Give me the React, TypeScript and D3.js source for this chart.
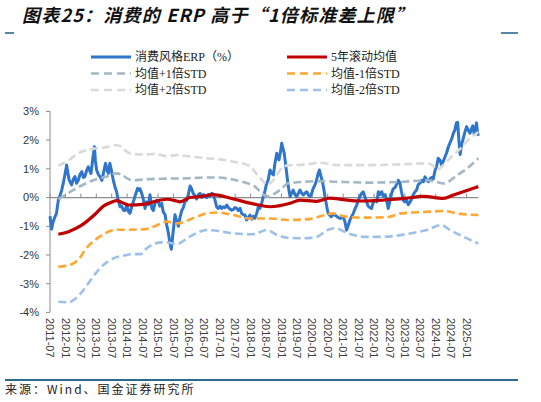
import React from "react";
import * as d3 from "d3";

// ---------- data ----------
const xTickLabels = [
  "2011-07","2012-01","2012-07","2013-01","2013-07","2014-01","2014-07",
  "2015-01","2015-07","2016-01","2016-07","2017-01","2017-07","2018-01",
  "2018-07","2019-01","2019-07","2020-01","2020-07","2021-01","2021-07",
  "2022-01","2022-07","2023-01","2023-07","2024-01","2024-07","2025-01",
];
const yTickValues = [3, 2, 1, 0, -1, -2, -3, -4];

// 消费风格ERP (%), [decimal year, value]
const erp: [number, number][] = [
  [2011.50,-0.65],[2011.55,-1.1],[2011.60,-0.85],[2011.66,-0.67],[2011.71,-0.55],[2011.77,-0.09],[2011.82,0.05],[2011.88,0.26],[2011.93,0.5],[2011.99,0.84],
  [2012.04,1.13],[2012.08,0.85],[2012.12,0.61],[2012.20,0.44],[2012.26,0.65],[2012.31,0.73],[2012.36,0.5],[2012.42,0.61],[2012.47,0.8],[2012.53,0.9],
  [2012.58,0.7],[2012.63,0.73],[2012.69,0.95],[2012.74,1.07],[2012.80,0.9],[2012.83,0.84],[2012.88,1.3],[2012.94,1.77],[2012.97,1.3],[2013.01,0.96],
  [2013.07,0.8],[2013.12,0.73],[2013.18,0.6],[2013.23,0.84],[2013.30,1.19],[2013.35,0.95],[2013.39,0.84],[2013.44,1.19],[2013.49,0.95],[2013.55,0.61],
  [2013.61,0.35],[2013.66,0.2],[2013.71,-0.1],[2013.77,-0.32],[2013.82,-0.3],[2013.88,-0.44],[2013.93,-0.45],[2013.99,-0.26],[2014.04,-0.49],[2014.09,-0.55],
  [2014.15,-0.32],[2014.20,-0.15],[2014.27,0.1],[2014.34,0.32],[2014.40,0.25],[2014.42,0.3],[2014.47,0.15],[2014.52,-0.05],[2014.58,-0.38],[2014.63,-0.15],
  [2014.69,-0.25],[2014.74,0.1],[2014.80,-0.38],[2014.85,-0.45],[2014.90,-0.2],[2014.96,-0.1],[2015.01,-0.15],[2015.06,-0.3],[2015.12,-0.2],[2015.17,-0.5],
  [2015.23,-0.6],[2015.28,-0.95],[2015.33,-1.2],[2015.39,-1.6],[2015.43,-1.8],[2015.46,-1.5],[2015.50,-1.1],[2015.55,-0.6],[2015.60,-0.8],[2015.66,-1.0],
  [2015.71,-0.7],[2015.77,-0.45],[2015.82,-0.35],[2015.87,-0.15],[2015.93,-0.1],[2015.98,0.1],[2016.04,0.4],[2016.09,0.3],[2016.14,0.15],[2016.20,0.05],
  [2016.25,-0.05],[2016.31,0.1],[2016.36,0.15],[2016.42,0.0],[2016.47,0.1],[2016.52,0.03],[2016.58,0.0],[2016.63,0.1],[2016.68,0.05],[2016.74,0.15],
  [2016.79,0.12],[2016.85,-0.1],[2016.90,-0.32],[2016.95,-0.38],[2017.01,-0.3],[2017.06,-0.38],[2017.12,-0.32],[2017.17,-0.35],[2017.23,-0.26],[2017.28,-0.35],
  [2017.33,-0.4],[2017.39,-0.44],[2017.44,-0.42],[2017.49,-0.35],[2017.55,-0.38],[2017.60,-0.45],[2017.66,-0.38],[2017.71,-0.55],[2017.76,-0.6],[2017.82,-0.61],
  [2017.87,-0.78],[2017.93,-0.7],[2017.98,-0.61],[2018.04,-0.75],[2018.09,-0.65],[2018.14,-0.72],[2018.20,-0.55],[2018.25,-0.32],[2018.30,-0.38],[2018.36,-0.2],
  [2018.41,0.03],[2018.47,0.25],[2018.52,0.49],[2018.57,0.61],[2018.63,0.96],[2018.68,0.85],[2018.74,0.79],[2018.79,1.2],[2018.85,1.54],[2018.89,1.35],
  [2018.92,1.31],[2018.97,1.6],[2019.01,1.89],[2019.05,1.7],[2019.09,1.54],[2019.13,1.2],[2019.17,0.84],[2019.22,0.4],[2019.28,0.03],[2019.33,0.15],
  [2019.38,0.26],[2019.44,0.1],[2019.49,0.03],[2019.55,0.15],[2019.60,0.26],[2019.66,0.15],[2019.71,0.09],[2019.76,0.15],[2019.82,0.2],[2019.87,0.1],
  [2019.93,0.03],[2019.98,0.15],[2020.03,0.32],[2020.09,0.45],[2020.14,0.61],[2020.18,0.8],[2020.23,0.96],[2020.28,0.75],[2020.34,0.49],[2020.38,0.25],
  [2020.41,0.03],[2020.45,-0.2],[2020.50,-0.49],[2020.55,-0.6],[2020.61,-0.67],[2020.67,-0.6],[2020.74,-0.61],[2020.82,-0.68],[2020.90,-0.73],[2020.95,-0.7],
  [2021.00,-0.67],[2021.06,-0.85],[2021.11,-1.13],[2021.17,-0.95],[2021.22,-0.78],[2021.28,-0.65],[2021.33,-0.55],[2021.38,-0.4],[2021.44,-0.26],[2021.49,-0.1],
  [2021.55,0.05],[2021.60,0.15],[2021.65,0.2],[2021.71,0.0],[2021.76,-0.15],[2021.81,-0.3],[2021.87,-0.35],[2021.92,-0.38],[2021.98,-0.15],[2022.03,-0.1],
  [2022.09,-0.15],[2022.14,0.2],[2022.19,0.1],[2022.25,0.2],[2022.30,0.05],[2022.36,0.1],[2022.41,-0.1],[2022.46,-0.38],[2022.52,-0.1],[2022.57,0.15],
  [2022.62,0.3],[2022.68,0.35],[2022.73,0.45],[2022.79,0.6],[2022.84,0.5],[2022.89,0.2],[2022.95,-0.1],[2023.00,-0.15],[2023.06,-0.1],[2023.11,-0.25],
  [2023.17,-0.15],[2023.22,-0.05],[2023.27,0.1],[2023.33,0.2],[2023.38,0.26],[2023.43,0.45],[2023.49,0.5],[2023.54,0.6],[2023.60,0.55],[2023.65,0.72],
  [2023.71,0.6],[2023.76,0.55],[2023.81,0.65],[2023.87,0.7],[2023.92,0.65],[2023.98,0.96],[2024.03,1.1],[2024.08,1.37],[2024.14,1.3],[2024.19,1.13],
  [2024.24,1.25],[2024.30,1.42],[2024.35,1.55],[2024.41,1.77],[2024.46,1.9],[2024.52,2.05],[2024.57,2.24],[2024.62,2.35],[2024.67,2.6],[2024.71,2.62],
  [2024.75,2.0],[2024.79,1.5],[2024.83,1.8],[2024.89,2.05],[2024.95,2.3],[2025.00,2.47],[2025.05,2.35],[2025.11,2.24],[2025.16,2.4],[2025.20,2.5],
  [2025.25,2.2],[2025.29,2.4],[2025.32,2.6],[2025.35,2.3],[2025.38,2.15],
];

// 5年滚动均值
const mean5y: [number, number][] = [
  [2011.77,-1.28],[2012.1,-1.19],[2012.5,-0.98],[2012.96,-0.58],[2013.23,-0.3],[2013.45,-0.18],[2013.66,-0.11],[2013.85,-0.18],
  [2014.04,-0.26],[2014.58,-0.23],[2014.85,-0.15],[2015.28,-0.06],[2015.6,-0.12],[2015.71,-0.15],[2016.04,0.0],[2016.36,0.03],
  [2016.79,0.1],[2017.44,-0.05],[2018.09,-0.22],[2018.63,-0.32],[2019.28,-0.2],[2019.6,-0.09],[2020.14,-0.13],[2020.57,-0.02],
  [2021.0,-0.07],[2021.55,-0.12],[2022.09,-0.1],[2022.7,-0.06],[2023.0,-0.03],[2023.6,0.04],[2024.24,-0.03],[2024.6,0.1],[2025.38,0.38],
];

// 均值+1倍STD
const plus1Std: [number, number][] = [
  [2011.77,-0.06],[2012.04,0.12],[2012.4,0.35],[2012.9,0.6],[2013.3,0.72],[2013.66,0.84],[2013.85,0.78],[2014.0,0.67],
  [2014.2,0.6],[2014.5,0.63],[2015.3,0.66],[2016.0,0.67],[2016.6,0.7],[2016.9,0.7],[2017.5,0.61],[2017.9,0.5],
  [2018.1,0.42],[2018.3,0.22],[2018.52,0.04],[2018.75,0.12],[2019.0,0.3],[2019.2,0.49],[2020.25,0.57],[2020.79,0.55],
  [2021.87,0.52],[2022.95,0.55],[2023.7,0.6],[2024.0,0.55],[2024.26,0.49],[2024.7,0.78],[2025.0,1.0],[2025.38,1.37],
];

// 均值-1倍STD
const minus1Std: [number, number][] = [
  [2011.77,-2.41],[2012.0,-2.38],[2012.26,-2.29],[2012.5,-2.05],[2012.63,-1.83],[2012.96,-1.48],[2013.23,-1.28],[2013.5,-1.15],
  [2013.71,-1.12],[2014.0,-1.12],[2014.58,-1.1],[2014.85,-1.02],[2015.28,-0.84],[2015.6,-0.9],[2016.25,-0.67],[2016.58,-0.55],
  [2016.9,-0.52],[2017.44,-0.61],[2017.98,-0.73],[2018.63,-0.73],[2019.2,-0.78],[2019.9,-0.75],[2020.4,-0.61],[2020.67,-0.55],
  [2021.0,-0.65],[2021.55,-0.7],[2022.4,-0.69],[2022.9,-0.55],[2023.7,-0.5],[2024.24,-0.47],[2024.79,-0.57],[2025.38,-0.61],
];

// 均值+2倍STD
const plus2Std: [number, number][] = [
  [2011.77,1.1],[2012.1,1.3],[2012.42,1.54],[2012.96,1.71],[2013.3,1.75],[2013.61,1.83],[2013.8,1.78],[2013.98,1.6],
  [2014.15,1.52],[2014.58,1.5],[2014.9,1.52],[2015.28,1.44],[2015.6,1.48],[2016.1,1.42],[2016.58,1.37],[2017.0,1.33],
  [2017.44,1.25],[2017.98,1.1],[2018.15,0.88],[2018.36,0.62],[2018.55,0.45],[2018.75,0.62],[2018.95,0.95],[2019.2,1.12],
  [2019.8,1.15],[2020.25,1.21],[2020.79,1.13],[2021.87,1.13],[2022.95,1.16],[2023.7,1.19],[2023.9,1.12],[2024.05,0.97],
  [2024.2,1.08],[2024.46,1.37],[2024.79,1.7],[2025.0,1.95],[2025.38,2.28],
];

// 均值-2倍STD
const minus2Std: [number, number][] = [
  [2011.77,-3.63],[2012.1,-3.65],[2012.35,-3.5],[2012.6,-3.2],[2012.8,-2.9],[2013.01,-2.6],[2013.23,-2.35],[2013.55,-2.12],
  [2013.9,-2.02],[2014.2,-1.97],[2014.45,-1.97],[2014.6,-1.8],[2014.9,-1.6],[2015.2,-1.55],[2015.6,-1.62],[2016.0,-1.38],
  [2016.58,-1.13],[2017.0,-1.17],[2017.44,-1.25],[2018.09,-1.28],[2018.52,-1.13],[2018.85,-1.3],[2019.2,-1.4],[2019.7,-1.42],
  [2020.14,-1.37],[2020.5,-1.13],[2020.74,-1.07],[2021.17,-1.25],[2021.7,-1.37],[2022.19,-1.37],[2023.17,-1.25],[2023.71,-1.13],
  [2024.19,-0.96],[2024.46,-1.13],[2024.79,-1.31],[2025.38,-1.6],
];

// ---------- layout ----------
const W = 541;
const H = 402;
const x = d3.scaleLinear().domain([2011.5, 2025.0]).range([50, 466.6]);
const y = d3.scaleLinear().domain([-4, 3]).range([312.4, 111.4]);
const xEnd = x(2025.38);

const parseLabel = (s: string) => +s.slice(0, 4) + (+s.slice(5, 7) - 1) / 12;

const SANS = "'Liberation Sans', Arial, sans-serif";
const CJK = "'Liberation Serif', 'Noto Sans CJK SC', serif";

const series = [
  { name: "消费风格ERP（%）", data: erp, color: "#2F75C9", width: 3, dash: "", curve: d3.curveLinear, col: 0, row: 0 },
  { name: "5年滚动均值", data: mean5y, color: "#C00000", width: 3.2, dash: "", curve: d3.curveMonotoneX, col: 1, row: 0 },
  { name: "均值+1倍STD", data: plus1Std, color: "#A3B8C4", width: 2.6, dash: "8 4", curve: d3.curveMonotoneX, col: 0, row: 1 },
  { name: "均值-1倍STD", data: minus1Std, color: "#FFA633", width: 2.6, dash: "8 4", curve: d3.curveMonotoneX, col: 1, row: 1 },
  { name: "均值+2倍STD", data: plus2Std, color: "#D9D9D9", width: 2.6, dash: "8 4", curve: d3.curveMonotoneX, col: 0, row: 2 },
  { name: "均值-2倍STD", data: minus2Std, color: "#9DC0EA", width: 2.6, dash: "8 4", curve: d3.curveMonotoneX, col: 1, row: 2 },
];

const legendCols = [91, 287];
const legendRows = [57, 73.5, 90];

export default function App() {
  const axisColor = "#8C8C8C";
  return (
    <svg
      width={W}
      height={H}
      viewBox={`0 0 ${W} ${H}`}
      style={{ position: "absolute", left: 0, top: 0, background: "#fff" }}
    >
      <rect x={0} y={0} width={W} height={H} fill="#fff" />
      {/* title */}
      <text
        x={22}
        y={22}
        fontFamily="'Noto Sans CJK SC', sans-serif"
        fontWeight="bold"
        fontStyle="italic"
        fontSize={18}
        letterSpacing={1.2}
        fill="#111"
      >
        图表25：消费的 ERP 高于“1倍标准差上限”
      </text>
      <line x1={5} x2={14} y1={33} y2={33} stroke="#2B6A8C" strokeWidth={1.6} />
      <line x1={501} x2={518} y1={33} y2={33} stroke="#2B6A8C" strokeWidth={1.6} />

      {/* legend */}
      {series.map((s) => (
        <g key={s.name}>
          <line
            x1={legendCols[s.col]}
            x2={legendCols[s.col] + 40}
            y1={legendRows[s.row]}
            y2={legendRows[s.row]}
            stroke={s.color}
            strokeWidth={s.dash ? 2.6 : 3}
            strokeDasharray={s.dash ? "8 5" : undefined}
          />
          <text
            x={legendCols[s.col] + 44}
            y={legendRows[s.row]}
            dy="0.36em"
            fontFamily={CJK}
            fontSize={12}
            fill="#222"
          >
            {s.name}
          </text>
        </g>
      ))}

      {/* y axis */}
      <line x1={50} x2={50} y1={y(3)} y2={y(-4)} stroke={axisColor} strokeWidth={1} />
      {yTickValues.map((v) => (
        <g key={v}>
          <line x1={46} x2={50} y1={y(v)} y2={y(v)} stroke={axisColor} strokeWidth={1} />
          <text
            x={39}
            y={y(v)}
            dy="0.35em"
            textAnchor="end"
            fontFamily={SANS}
            fontSize={11}
            fill="#333"
          >
            {`${v}%`}
          </text>
        </g>
      ))}

      {/* x axis at 0 */}
      <line x1={50} x2={xEnd} y1={y(0)} y2={y(0)} stroke={axisColor} strokeWidth={1.2} />
      {xTickLabels.map((lab) => {
        const px = x(parseLabel(lab));
        return (
          <g key={lab}>
            <line x1={px} x2={px} y1={y(0) - 4} y2={y(0)} stroke={axisColor} strokeWidth={1} />
            <text
              transform={`translate(${px},318) rotate(90)`}
              dy="0.35em"
              fontFamily={SANS}
              fontSize={11}
              fill="#404040"
            >
              {lab}
            </text>
          </g>
        );
      })}

      {/* series */}
      {series.map((s) => {
        const gen = d3
          .line<[number, number]>()
          .x((d) => x(d[0]))
          .y((d) => y(d[1]))
          .curve(s.curve);
        return (
          <path
            key={s.name}
            d={gen(s.data) || ""}
            fill="none"
            stroke={s.color}
            strokeWidth={s.width}
            strokeDasharray={s.dash || undefined}
            strokeLinejoin="round"
            strokeLinecap="butt"
          />
        );
      })}

      {/* source */}
      <line x1={5} x2={518} y1={380} y2={380} stroke="#2B6A8C" strokeWidth={2} />
      <text
        x={5}
        y={390}
        dy="0.36em"
        fontFamily="'Noto Sans CJK SC', sans-serif"
        fontSize={12}
        letterSpacing={2}
        fill="#222"
      >
        来源：Wind、国金证券研究所
      </text>
    </svg>
  );
}
